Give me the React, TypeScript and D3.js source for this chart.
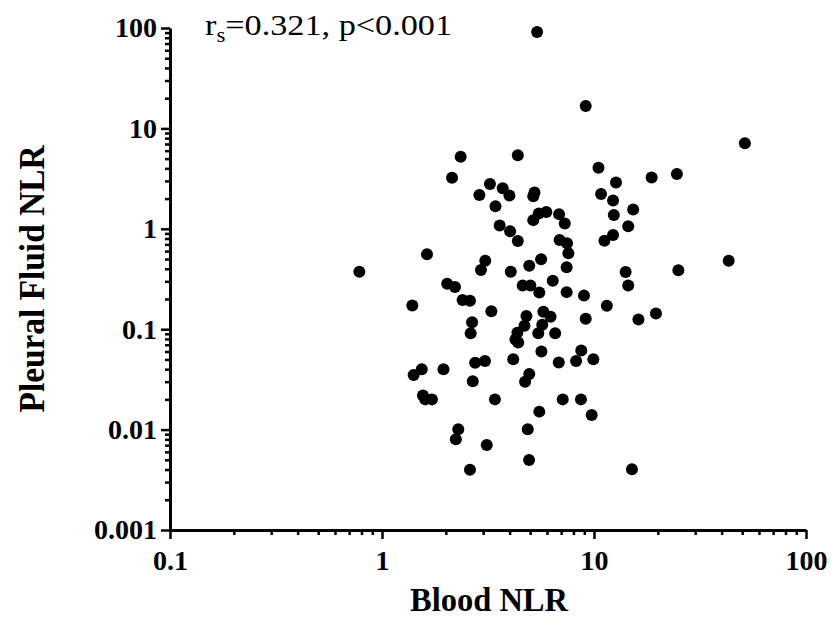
import React, { useEffect, useRef } from "react";
import * as d3 from "d3";

// values (log-log scatter)
const bloodNLR = [
  5.39, 9.14, 51.5, 2.35, 4.37, 2.14, 10.5, 12.7, 18.7, 24.6,
  3.23, 3.71, 3.99, 2.88, 5.24, 5.17, 10.8, 12.3, 3.43, 12.4,
  15.3, 14.5, 5.49, 5.96, 5.17, 6.84, 7.28, 3.59, 4.02, 4.37,
  12.3, 11.2, 6.88, 7.46, 7.57, 1.63, 3.07, 2.93, 4.05, 5.63,
  4.95, 7.43, 14.1, 14.5, 25.0, 43.2, 0.782, 2.03, 2.21, 2.4,
  2.6, 1.39, 3.28, 4.61, 5.01, 5.52, 6.39, 7.43, 8.97, 11.5,
  4.8, 5.77, 6.24, 9.14, 16.2, 19.6, 2.66, 2.62, 4.7, 4.35,
  4.26, 4.39, 5.7, 5.46, 6.56, 5.65, 8.71, 8.23, 9.93, 6.82,
  4.16, 2.75, 3.06, 2.68, 4.95, 4.73, 3.41, 7.12, 8.68, 5.52,
  9.75, 2.29, 2.23, 4.87, 3.12, 4.94, 2.6, 15.1, 1.54, 1.41,
  1.95, 1.56, 1.6, 1.72
];

const pleuralNLR = [
  91.2, 16.7, 7.11, 5.21, 5.41, 3.23, 4.06, 2.89, 3.24, 3.51,
  2.79, 2.53, 2.15, 2.17, 2.3, 2.11, 2.22, 1.91, 1.68, 1.37,
  1.56, 1.06, 1.42, 1.47, 1.22, 1.4, 1.13, 1.08, 0.946, 0.756,
  0.867, 0.759, 0.773, 0.717, 0.57, 0.558, 0.481, 0.389, 0.374, 0.498,
  0.428, 0.414, 0.371, 0.272, 0.387, 0.481, 0.374, 0.284, 0.263, 0.195,
  0.192, 0.172, 0.151, 0.273, 0.273, 0.232, 0.304, 0.234, 0.216, 0.171,
  0.135, 0.149, 0.133, 0.127, 0.125, 0.143, 0.117, 0.091, 0.108, 0.0923,
  0.0788, 0.0737, 0.111, 0.091, 0.091, 0.0601, 0.0615, 0.0482, 0.0501, 0.0466,
  0.0501, 0.0464, 0.0482, 0.0303, 0.0358, 0.03, 0.02, 0.02, 0.02, 0.0151,
  0.014, 0.0101, 0.008, 0.0101, 0.00703, 0.00498, 0.00399, 0.00403, 0.04, 0.035,
  0.04, 0.0219, 0.02, 0.02
];

const xTicks = [0.1, 1, 10, 100];
const xTickLabels = ["0.1", "1", "10", "100"];
const yTicks = [0.001, 0.01, 0.1, 1, 10, 100];
const yTickLabels = ["0.001", "0.01", "0.1", "1", "10", "100"];

const minorTicks = (decades: number[]) =>
  decades.flatMap(d => [2, 3, 4, 5, 6, 7, 8, 9].map(m => d * m));

export default function App() {
  const ref = useRef<SVGSVGElement>(null);

  useEffect(() => {
    const svg = d3.select(ref.current);
    svg.selectAll("*").remove();

    const width = 832;
    const height = 617;
    const margin = { top: 28, left: 170, right: 26, bottom: 87 };
    const serif = "'Liberation Serif', 'Times New Roman', serif";

    const x = d3
      .scaleLog()
      .domain([0.1, 100])
      .range([margin.left, width - margin.right]);
    const y = d3
      .scaleLog()
      .domain([0.001, 100])
      .range([height - margin.bottom, margin.top]);

    const styleAxis = (g: any, fs: number) => {
      g.select(".domain").attr("stroke-width", 3);
      g.selectAll(".tick line").attr("stroke-width", 2.5);
      g.selectAll(".tick text")
        .attr("font-family", serif)
        .attr("font-weight", "bold")
        .attr("font-size", fs)
        .attr("fill", "#000");
    };

    // minor ticks first, majors on top
    svg
      .append("g")
      .attr("transform", `translate(${margin.left},0)`)
      .call(
        d3.axisLeft(y).tickValues(minorTicks(yTicks.slice(0, -1))).tickSize(5).tickFormat(() => "")
      )
      .call((g: any) => {
        g.select(".domain").remove();
        g.selectAll(".tick line").attr("stroke-width", 2.5);
      });

    svg
      .append("g")
      .attr("transform", `translate(0,${height - margin.bottom})`)
      .call(
        d3.axisBottom(x).tickValues(minorTicks(xTicks.slice(0, -1))).tickSize(5).tickFormat(() => "")
      )
      .call((g: any) => {
        g.select(".domain").remove();
        g.selectAll(".tick line").attr("stroke-width", 2.5);
      });

    svg
      .append("g")
      .attr("transform", `translate(${margin.left},0)`)
      .call(
        d3
          .axisLeft(y)
          .tickValues(yTicks)
          .tickSize(9)
          .tickSizeOuter(0)
          .tickPadding(4)
          .tickFormat((_: any, i: number) => yTickLabels[i])
      )
      .call((g: any) => styleAxis(g, 28));

    svg
      .append("g")
      .attr("transform", `translate(0,${height - margin.bottom})`)
      .call(
        d3
          .axisBottom(x)
          .tickValues(xTicks)
          .tickSize(9)
          .tickSizeOuter(0)
          .tickPadding(11)
          .tickFormat((_: any, i: number) => xTickLabels[i])
      )
      .call((g: any) => styleAxis(g, 28));

    // points
    svg
      .append("g")
      .selectAll("circle")
      .data(bloodNLR)
      .enter()
      .append("circle")
      .attr("cx", d => x(d))
      .attr("cy", (_, i) => y(pleuralNLR[i]))
      .attr("r", 6)
      .attr("fill", "#000");

    // axis titles
    svg
      .append("text")
      .attr("x", 489)
      .attr("y", 611)
      .attr("text-anchor", "middle")
      .attr("font-family", serif)
      .attr("font-weight", "bold")
      .attr("font-size", 34)
      .attr("textLength", 158)
      .attr("lengthAdjust", "spacingAndGlyphs")
      .text("Blood NLR");

    svg
      .append("text")
      .attr("transform", "translate(44,279) rotate(-90)")
      .attr("text-anchor", "middle")
      .attr("font-family", serif)
      .attr("font-weight", "bold")
      .attr("font-size", 36)
      .attr("textLength", 267)
      .attr("lengthAdjust", "spacingAndGlyphs")
      .text("Pleural Fluid NLR");

    // correlation note
    const note = svg
      .append("text")
      .attr("x", 205)
      .attr("y", 35)
      .attr("font-family", serif)
      .attr("font-size", 30)
      .attr("textLength", 247)
      .attr("lengthAdjust", "spacingAndGlyphs");
    note.append("tspan").text("r");
    note.append("tspan").attr("font-size", 20).attr("dy", 7).text("s");
    note.append("tspan").attr("dy", -7).text("=0.321, p<0.001");
  }, []);

  return (
    <svg
      ref={ref}
      width={832}
      height={617}
      style={{ position: "absolute", left: 0, top: 0, background: "#fff" }}
    />
  );
}
